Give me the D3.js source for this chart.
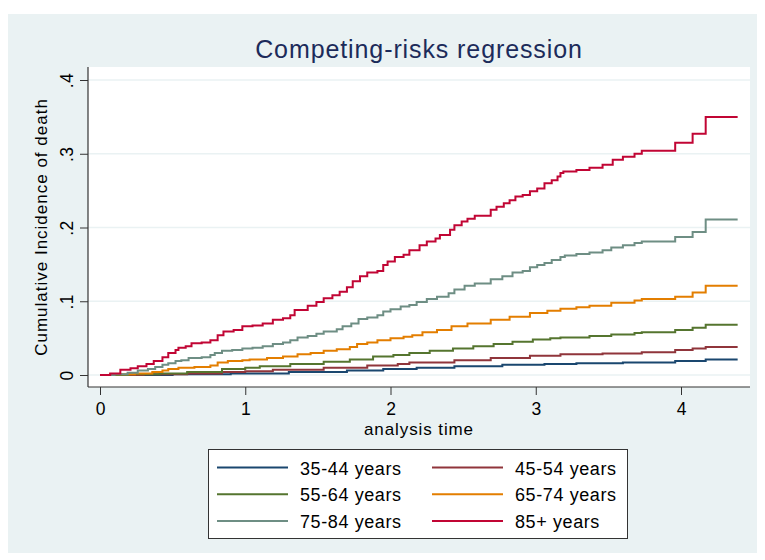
<!DOCTYPE html>
<html>
<head>
<meta charset="utf-8">
<script src="https://cdn.jsdelivr.net/npm/d3@7"></script>
<style>
  body { margin: 0; background: #fff; }
  text { font-family: "Liberation Sans", Arial, sans-serif; }
</style>
</head>
<body>
<div id="chart"></div>
<script>
// cumulative incidence, step points [time, value]
const groups = ["35-44 years", "45-54 years", "55-64 years", "65-74 years", "75-84 years", "85+ years"];
const colors = ["#1A476F", "#90353B", "#55752F", "#E37E00", "#6E8E84", "#C10534"];

const cif3544 = [[0,0],[0.5,0.001],[0.9,0.002],[1.3,0.004],[1.7,0.006],[1.95,0.008],[2.18,0.010],[2.44,0.012],[2.77,0.014],[3.06,0.015],[3.28,0.016],[3.60,0.017],[3.96,0.019],[4.17,0.021],[4.39,0.021]];
const cif4554 = [[0,0],[0.3,0.001],[0.6,0.002],[0.84,0.004],[1.0,0.005],[1.19,0.007],[1.54,0.010],[1.84,0.013],[2.05,0.015],[2.13,0.017],[2.44,0.020],[2.69,0.023],[2.96,0.026],[3.17,0.028],[3.46,0.029],[3.73,0.031],[3.96,0.034],[4.08,0.036],[4.17,0.038],[4.39,0.038]];
const cif5564 = [[0,0],[0.2,0.001],[0.41,0.002],[0.60,0.004],[0.84,0.008],[1.0,0.010],[1.10,0.012],[1.31,0.015],[1.54,0.018],[1.72,0.021],[1.88,0.025],[2.02,0.027],[2.13,0.030],[2.27,0.033],[2.43,0.036],[2.57,0.039],[2.71,0.042],[2.84,0.045],[2.98,0.048],[3.10,0.050],[3.17,0.051],[3.37,0.053],[3.52,0.055],[3.68,0.057],[3.73,0.058],[3.96,0.061],[4.08,0.064],[4.17,0.068],[4.39,0.068]];
const cif6574 = [[0,0],[0.07,0.001],[0.24,0.002],[0.36,0.004],[0.43,0.006],[0.47,0.008],[0.54,0.010],[0.65,0.011],[0.76,0.013],[0.81,0.017],[0.88,0.019],[0.98,0.020],[1.03,0.021],[1.15,0.023],[1.26,0.025],[1.36,0.028],[1.45,0.030],[1.54,0.033],[1.63,0.035],[1.72,0.038],[1.77,0.042],[1.84,0.044],[1.91,0.047],[2.00,0.050],[2.09,0.052],[2.15,0.054],[2.22,0.058],[2.32,0.061],[2.42,0.066],[2.53,0.070],[2.69,0.075],[2.82,0.079],[2.96,0.084],[3.08,0.087],[3.17,0.090],[3.28,0.092],[3.37,0.094],[3.52,0.098],[3.68,0.101],[3.73,0.103],[3.96,0.106],[4.08,0.112],[4.17,0.121],[4.39,0.121]];
const cif7584 = [[0,0],[0.10,0.001],[0.19,0.003],[0.26,0.006],[0.33,0.008],[0.38,0.011],[0.43,0.014],[0.47,0.016],[0.52,0.019],[0.56,0.020],[0.61,0.023],[0.70,0.024],[0.76,0.027],[0.79,0.030],[0.84,0.033],[0.91,0.034],[0.98,0.036],[1.05,0.037],[1.12,0.039],[1.19,0.042],[1.26,0.044],[1.31,0.047],[1.36,0.051],[1.43,0.053],[1.49,0.056],[1.54,0.059],[1.63,0.062],[1.67,0.066],[1.73,0.070],[1.78,0.076],[1.84,0.078],[1.91,0.081],[1.95,0.086],[2.00,0.089],[2.07,0.093],[2.13,0.095],[2.18,0.099],[2.25,0.103],[2.32,0.106],[2.40,0.111],[2.44,0.116],[2.51,0.121],[2.58,0.124],[2.69,0.130],[2.77,0.134],[2.84,0.139],[2.91,0.141],[2.96,0.146],[3.01,0.149],[3.06,0.152],[3.11,0.156],[3.17,0.160],[3.20,0.162],[3.28,0.164],[3.37,0.166],[3.46,0.169],[3.52,0.173],[3.60,0.176],[3.68,0.179],[3.73,0.181],[3.96,0.187],[4.08,0.194],[4.17,0.211],[4.39,0.211]];
const cif85 = [[0,0],[0.07,0.002],[0.14,0.007],[0.21,0.009],[0.26,0.012],[0.32,0.015],[0.37,0.019],[0.43,0.024],[0.47,0.030],[0.52,0.034],[0.54,0.037],[0.59,0.039],[0.63,0.043],[0.70,0.044],[0.76,0.047],[0.81,0.054],[0.85,0.059],[0.92,0.061],[0.98,0.066],[1.05,0.067],[1.12,0.070],[1.19,0.075],[1.26,0.077],[1.31,0.081],[1.34,0.088],[1.43,0.094],[1.49,0.099],[1.54,0.104],[1.60,0.108],[1.65,0.113],[1.70,0.119],[1.74,0.127],[1.79,0.134],[1.84,0.139],[1.91,0.141],[1.95,0.149],[1.98,0.154],[2.03,0.160],[2.09,0.163],[2.13,0.169],[2.20,0.176],[2.25,0.181],[2.31,0.185],[2.34,0.190],[2.41,0.197],[2.44,0.203],[2.49,0.208],[2.53,0.212],[2.58,0.216],[2.69,0.224],[2.73,0.228],[2.78,0.233],[2.82,0.237],[2.86,0.242],[2.91,0.244],[2.96,0.249],[3.01,0.253],[3.06,0.260],[3.11,0.264],[3.15,0.269],[3.17,0.274],[3.19,0.276],[3.28,0.278],[3.37,0.281],[3.46,0.285],[3.53,0.292],[3.60,0.296],[3.68,0.300],[3.73,0.304],[3.96,0.315],[4.08,0.327],[4.17,0.350],[4.39,0.350]];

const series = [cif3544, cif4554, cif5564, cif6574, cif7584, cif85];

const xTicks = [0, 1, 2, 3, 4];
const yTicks = [0, 0.1, 0.2, 0.3, 0.4];
const yTickLabels = ["0", ".1", ".2", ".3", ".4"];

const W = 765, H = 560;
// plot region (white box)
const plot = { left: 88, right: 750, top: 67, bottom: 387 };

const svg = d3.select("#chart").append("svg")
  .attr("width", W)
  .attr("height", H);

// graph region background
svg.append("rect")
  .attr("x", 8).attr("y", 14)
  .attr("width", 749).attr("height", 539)
  .attr("fill", "#EAF2F3");

svg.append("rect")
  .attr("x", plot.left).attr("y", plot.top)
  .attr("width", plot.right - plot.left)
  .attr("height", plot.bottom - plot.top)
  .attr("fill", "#fff");

const x = d3.scaleLinear().domain([0, 4]).range([100, 681]);
const y = d3.scaleLinear().domain([0, 0.4]).range([375, 80]);

// gridlines
svg.append("g")
  .selectAll("line")
  .data(yTicks)
  .join("line")
    .attr("x1", plot.left).attr("x2", plot.right)
    .attr("y1", d => y(d)).attr("y2", d => y(d))
    .attr("stroke", "#EAF2F3")
    .attr("stroke-width", 1.5);

// y axis
const yAxis = svg.append("g")
  .attr("transform", `translate(${plot.left},0)`)
  .call(d3.axisLeft(y).tickValues(yTicks).tickSize(8).tickSizeOuter(0)
    .tickFormat((d, i) => yTickLabels[i]));
yAxis.select(".domain").remove();
yAxis.selectAll(".tick line").attr("stroke", "#333");
yAxis.selectAll(".tick text")
  .attr("x", null).attr("dy", null)
  .attr("transform", "translate(-15,0) rotate(-90)")
  .attr("text-anchor", "middle")
  .attr("font-size", 17.5)
  .attr("letter-spacing", "0.5px")
  .attr("fill", "#000");

// x axis
const xAxis = svg.append("g")
  .attr("transform", `translate(0,${plot.bottom})`)
  .call(d3.axisBottom(x).tickValues(xTicks).tickSize(8).tickSizeOuter(0)
    .tickFormat(d3.format("d")));
xAxis.select(".domain").remove();
xAxis.selectAll(".tick line").attr("stroke", "#333");
xAxis.selectAll(".tick text")
  .attr("y", 28).attr("dy", null)
  .attr("font-size", 17.5)
  .attr("fill", "#000");

// axis lines
svg.append("line")
  .attr("x1", plot.left).attr("x2", plot.left)
  .attr("y1", plot.top).attr("y2", plot.bottom)
  .attr("stroke", "#333").attr("stroke-width", 1.2);
svg.append("line")
  .attr("x1", plot.left).attr("x2", plot.right)
  .attr("y1", plot.bottom).attr("y2", plot.bottom)
  .attr("stroke", "#333").attr("stroke-width", 1.2);

// curves
const line = d3.line()
  .x(d => x(d[0]))
  .y(d => y(d[1]))
  .curve(d3.curveStepAfter);

svg.append("g")
  .selectAll("path")
  .data(series)
  .join("path")
    .attr("d", line)
    .attr("fill", "none")
    .attr("stroke", (d, i) => colors[i])
    .attr("stroke-width", 2);

// titles
svg.append("text")
  .attr("x", 419).attr("y", 58)
  .attr("text-anchor", "middle")
  .attr("font-size", 25)
  .attr("letter-spacing", "0.9px")
  .attr("fill", "#1c2b5a")
  .text("Competing-risks regression");

svg.append("text")
  .attr("x", 419).attr("y", 435)
  .attr("text-anchor", "middle")
  .attr("font-size", 17)
  .attr("letter-spacing", "0.9px")
  .attr("fill", "#000")
  .text("analysis time");

svg.append("text")
  .attr("transform", `translate(47,${(plot.top + plot.bottom) / 2}) rotate(-90)`)
  .attr("text-anchor", "middle")
  .attr("font-size", 17)
  .attr("letter-spacing", "1px")
  .attr("fill", "#000")
  .text("Cumulative Incidence of death");

// legend
const legend = svg.append("g");
legend.append("rect")
  .attr("x", 208.5).attr("y", 449.5)
  .attr("width", 419).attr("height", 89)
  .attr("fill", "#fff")
  .attr("stroke", "#333")
  .attr("stroke-width", 1);

const item = legend.selectAll("g.item")
  .data(groups)
  .join("g")
    .attr("class", "item")
    .attr("transform", (d, i) => `translate(${i % 2 === 0 ? 217 : 432},${467.5 + Math.floor(i / 2) * 26.7})`);

item.append("line")
  .attr("x1", 0).attr("x2", 71)
  .attr("stroke", (d, i) => colors[i])
  .attr("stroke-width", 2);

item.append("text")
  .attr("x", 83).attr("y", 7)
  .attr("font-size", 18)
  .attr("letter-spacing", "0.6px")
  .attr("fill", "#000")
  .text(d => d);
</script>
</body>
</html>
